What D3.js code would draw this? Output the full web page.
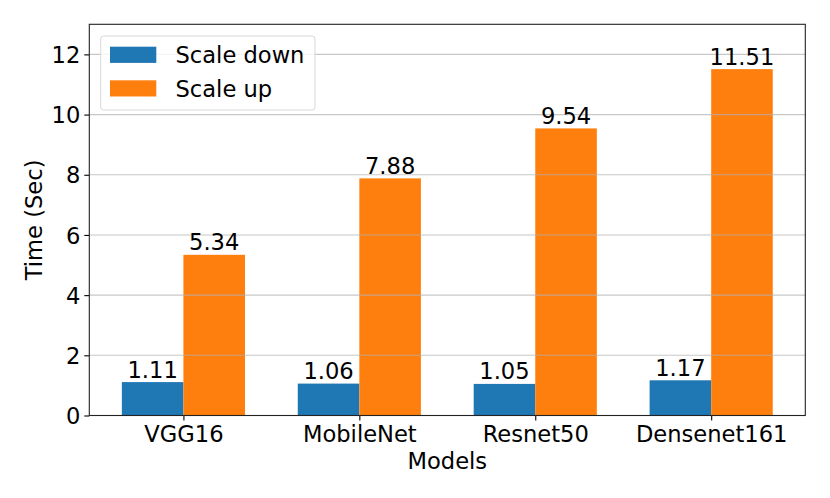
<!DOCTYPE html>
<html>
<head>
<meta charset="utf-8">
<script src="https://cdn.jsdelivr.net/npm/d3@7"></script>
<style>
  body { margin: 0; background: #fff; }
  text { font-family: "DejaVu Sans", sans-serif; fill: #000; }
</style>
</head>
<body>
<div id="chart"></div>
<script>
var models = ["VGG16", "MobileNet", "Resnet50", "Densenet161"];
var scaleDown = [1.11, 1.06, 1.05, 1.17];
var scaleUp = [5.34, 7.88, 9.54, 11.51];
var yTicks = [0, 2, 4, 6, 8, 10, 12];
var seriesNames = ["Scale down", "Scale up"];
var colors = ["#1f77b4", "#ff7f0e"];

var width = 830,
  height = 498,
  margin = {left: 89.3, right: 24.7, top: 24.3, bottom: 82.5};
var fs = "22.6px";

var svg = d3.select("#chart")
  .append("svg")
  .attr("width", width)
  .attr("height", height);

// matplotlib style: bar width 0.35, 5% margins
var barW = 0.35;
var x = d3.scaleLinear()
  .domain([-0.535, 3.535])
  .range([margin.left, width - margin.right]);

var y = d3.scaleLinear()
  .domain([0, 13])
  .range([height - margin.bottom, margin.top]);

var series = [scaleDown, scaleUp];
var bars = [];
series.forEach(function(vals, s) {
  vals.forEach(function(v, i) {
    bars.push({s: s, i: i, v: v, x0: i - barW + s * barW});
  });
});

svg.selectAll("rect.bar")
  .data(bars)
  .enter()
  .append("rect")
  .attr("class", "bar")
  .attr("x", function(d) { return x(d.x0); })
  .attr("width", function(d) { return x(d.x0 + barW) - x(d.x0); })
  .attr("y", function(d) { return y(d.v); })
  .attr("height", function(d) { return y(0) - y(d.v); })
  .attr("fill", function(d) { return colors[d.s]; });

// grid above the bars
svg.append("g")
  .selectAll("line")
  .data(yTicks)
  .enter()
  .append("line")
  .attr("x1", margin.left)
  .attr("x2", width - margin.right)
  .attr("y1", function(d) { return y(d); })
  .attr("y2", function(d) { return y(d); })
  .attr("stroke", "#b0b0b0")
  .attr("stroke-opacity", 0.7)
  .attr("stroke-width", 1.1);

// value labels
svg.selectAll("text.val")
  .data(bars)
  .enter()
  .append("text")
  .attr("class", "val")
  .attr("x", function(d) { return x(d.x0 + barW / 2); })
  .attr("y", function(d) { return y(d.v) - 4.5; })
  .attr("text-anchor", "middle")
  .style("font-size", fs)
  .text(function(d) { return d.v.toFixed(2); });

// axes
var yAxis = d3.axisLeft(y)
  .tickValues(yTicks)
  .tickSize(5)
  .tickPadding(4)
  .tickFormat(d3.format("d"));

var gy = svg.append("g")
  .attr("transform", "translate(" + margin.left + ",0)")
  .call(yAxis);
gy.select(".domain").remove();
gy.selectAll("text").style("font-size", fs).attr("dy", "0.36em");
gy.selectAll("line").attr("stroke", "#000").attr("stroke-width", 1.1);

var xAxis = d3.axisBottom(x)
  .tickValues([0, 1, 2, 3])
  .tickSize(5)
  .tickPadding(5)
  .tickFormat(function(d) { return models[d]; });

var gx = svg.append("g")
  .attr("transform", "translate(0," + y(0) + ")")
  .call(xAxis);
gx.select(".domain").remove();
gx.selectAll("text").style("font-size", fs);
gx.selectAll("line").attr("stroke", "#000").attr("stroke-width", 1.1);

// frame
svg.append("rect")
  .attr("x", margin.left)
  .attr("y", margin.top)
  .attr("width", width - margin.left - margin.right)
  .attr("height", height - margin.top - margin.bottom)
  .attr("fill", "none")
  .attr("stroke", "#222")
  .attr("stroke-width", 1.1);

// axis labels
svg.append("text")
  .attr("x", (margin.left + width - margin.right) / 2)
  .attr("y", 468.5)
  .attr("text-anchor", "middle")
  .style("font-size", fs)
  .text("Models");

svg.append("text")
  .attr("transform", "translate(42," + (margin.top + height - margin.bottom) / 2 + ") rotate(-90)")
  .attr("text-anchor", "middle")
  .style("font-size", fs)
  .text("Time (Sec)");

// legend
var legend = svg.append("g");
legend.append("rect")
  .attr("x", 100.7)
  .attr("y", 36)
  .attr("width", 214.3)
  .attr("height", 74)
  .attr("rx", 3)
  .attr("fill", "#fff")
  .attr("fill-opacity", 0.8)
  .attr("stroke", "#d8d8d8");

seriesNames.forEach(function(name, s) {
  var top = 46.7 + s * 33.6;
  legend.append("rect")
    .attr("x", 110)
    .attr("y", top)
    .attr("width", 46.3)
    .attr("height", 16.2)
    .attr("fill", colors[s]);
  legend.append("text")
    .attr("x", 175.5)
    .attr("y", top + 16.4)
    .style("font-size", fs)
    .text(name);
});
</script>
</body>
</html>
